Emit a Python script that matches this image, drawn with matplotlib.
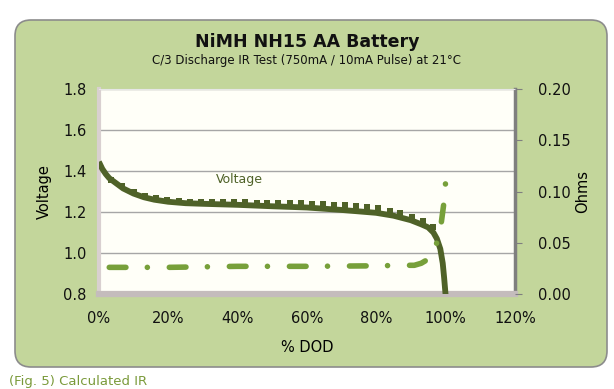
import matplotlib
matplotlib.use('Agg')
import matplotlib.pyplot as plt
from matplotlib.patches import FancyBboxPatch
from matplotlib.ticker import FuncFormatter

# voltage under C/3 load
dod = [0, 1, 2, 3, 5, 7, 10, 13, 16, 20, 25, 30, 40, 50, 60, 70, 80, 85,
       90, 93, 95, 96.5, 97.5, 98.5, 99.2, 99.6, 100, 100.3]
voltage = [1.445, 1.41, 1.385, 1.365, 1.34, 1.315, 1.29, 1.272, 1.26, 1.25,
           1.243, 1.24, 1.235, 1.228, 1.222, 1.21, 1.196, 1.182, 1.16, 1.14,
           1.125, 1.10, 1.07, 1.02, 0.95, 0.88, 0.80, 0.75]

# voltage at the pulse points
pulse_dod = [3.5, 6.8, 10.2, 13.3, 16.4, 19.8, 23.0, 26.2, 29.4, 32.6, 35.8,
             39.0, 42.2, 45.5, 48.6, 51.8, 55.0, 58.2, 61.4, 64.6, 67.8, 71.0,
             74.3, 77.4, 80.6, 83.9, 87.0, 90.2, 93.5, 96.5]
pulse_v = [1.358, 1.326, 1.297, 1.280, 1.269, 1.259, 1.254, 1.251, 1.250,
           1.249, 1.249, 1.248, 1.247, 1.246, 1.245, 1.244, 1.243, 1.242,
           1.240, 1.238, 1.236, 1.233, 1.229, 1.225, 1.218, 1.207, 1.194,
           1.178, 1.154, 1.129]

# calculated internal resistance
ir_dod = [3, 10, 20, 40, 60, 80, 88, 91, 93, 95, 97.5, 98.8, 99.5, 100]
ir_ohm = [0.026, 0.026, 0.026, 0.027, 0.027, 0.0275, 0.028, 0.028, 0.030,
          0.034, 0.050, 0.070, 0.088, 0.108]

dark = '#4f6228'
light = '#77a03a'
bg = '#c3d69b'

fig = plt.figure(figsize=(6.14, 3.89), dpi=100)
fig.patch.set_facecolor('white')

# green rounded panel behind everything
box = FancyBboxPatch((0.15, 0.22), 5.92, 3.47,
                     boxstyle='round,pad=0,rounding_size=0.16',
                     transform=fig.dpi_scale_trans, facecolor=bg,
                     edgecolor='#8c8c8c', linewidth=1.2, zorder=-5)
fig.patches.append(box)

ax = fig.add_axes([0.161, 0.2442, 0.6775, 0.527])
ax.set_facecolor('#fffff8')

ax.plot(dod, voltage, color=dark, lw=4.2, solid_capstyle='butt',
        solid_joinstyle='round', zorder=3)
ax.plot(pulse_dod, pulse_v, ls='none', marker='s', ms=4.0, mew=0,
        color=dark, zorder=3)
ax.text(40.5, 1.36, 'Voltage', color=dark, fontsize=9, ha='center',
        va='center')

ax.set_xlim(0, 120)
ax.set_ylim(0.8, 1.8)
ax.set_xticks([0, 20, 40, 60, 80, 100, 120])
ax.xaxis.set_major_formatter(FuncFormatter(lambda v, p: '%d%%' % v))
ax.set_yticks([0.8, 1.0, 1.2, 1.4, 1.6, 1.8])
ax.yaxis.set_major_formatter(FuncFormatter(lambda v, p: '%.1f' % v))
ax.grid(axis='y', color='#a6a6a6', lw=1)
ax.set_axisbelow(True)
ax.tick_params(axis='y', length=0, labelsize=10.5, colors='#111111', pad=9)
ax.tick_params(axis='x', length=0, labelsize=10.5, colors='#111111', pad=12)
ax.set_xlabel('% DOD', fontsize=10.5, labelpad=10)
ax.set_ylabel('Voltage', fontsize=10.5, labelpad=8)

ax.spines['left'].set_color('#d9d0d0')
ax.spines['left'].set_linewidth(3)
ax.spines['bottom'].set_color('#c4bcbc')
ax.spines['bottom'].set_linewidth(4.5)
ax.spines['top'].set_color('#e6e6e6')
ax.spines['right'].set_color('#7f7f7f')
ax.spines['right'].set_linewidth(2.5)

ax2 = ax.twinx()
ax2.plot(ir_dod, ir_ohm, color=light, lw=4, dash_capstyle='round',
         linestyle=(0, (3.0, 3.85, 0.01, 3.95)), zorder=2)
ax2.set_ylim(0, 0.2)
ax2.set_yticks([0, 0.05, 0.10, 0.15, 0.20])
ax2.yaxis.set_major_formatter(FuncFormatter(lambda v, p: '%.2f' % v))
ax2.tick_params(axis='y', length=5, color='#7f7f7f', labelsize=10.5,
                labelcolor='#111111', pad=12)
ax2.set_ylabel('Ohms', fontsize=10.5, labelpad=3)
for s in ax2.spines.values():
    s.set_visible(False)

fig.text(0.5, 0.893, 'NiMH NH15 AA Battery', ha='center', va='center',
         fontsize=12.5, fontweight='bold', color='#111111')
fig.text(0.5, 0.845, 'C/3 Discharge IR Test (750mA / 10mA Pulse) at 21°C',
         ha='center', va='center', fontsize=8.5, color='#111111')
fig.text(0.015, 0.003, '(Fig. 5) Calculated IR', ha='left', va='bottom',
         fontsize=9.5, color='#7a9a3a')

fig.savefig('out.png', dpi=100)
